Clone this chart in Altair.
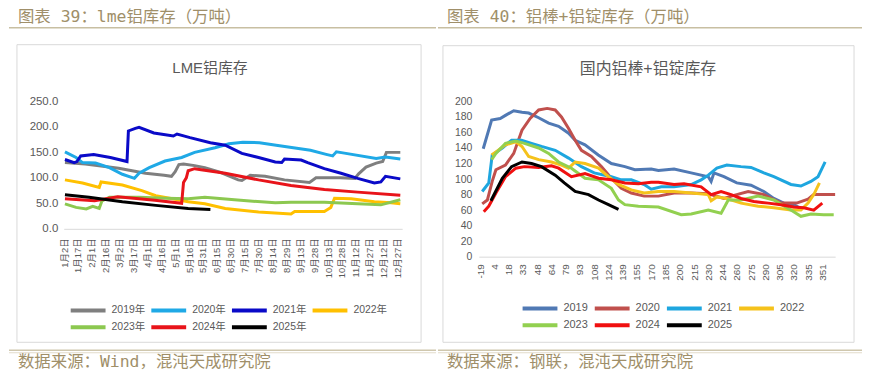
import json
import altair as alt
import pandas as pd

# ---------------- text ----------------
LEFT_HEADER = "图表 39：lme铝库存（万吨）"
RIGHT_HEADER = "图表 40：铝棒+铝锭库存（万吨）"
LEFT_SOURCE = "数据来源：Wind，混沌天成研究院"
RIGHT_SOURCE = "数据来源：钢联，混沌天成研究院"
LEFT_TITLE = "LME铝库存"
RIGHT_TITLE = "国内铝棒+铝锭库存"

# ---------------- axes ----------------
LEFT_TICK_VALUES = [2, 17, 32, 47, 62, 77, 92, 107, 122, 137, 152, 167, 182, 197, 212,
                    227, 242, 257, 272, 287, 302, 317, 332, 347, 362]
LEFT_TICK_LABELS = ["1月2日", "1月17日", "2月1日", "2月16日", "3月2日", "3月17日", "4月1日",
                    "4月16日", "5月1日", "5月16日", "5月31日", "6月15日", "6月30日", "7月15日",
                    "7月30日", "8月14日", "8月29日", "9月13日", "9月28日", "10月13日", "10月28日",
                    "11月12日", "11月27日", "12月12日", "12月27日"]
LEFT_Y_TICKS = [0, 50, 100, 150, 200, 250]

RIGHT_TICK_VALUES = list(range(25))
RIGHT_TICK_LABELS = ["-19", "4", "18", "33", "48", "64", "79", "93", "108", "124", "139", "155",
                     "170", "185", "200", "215", "230", "244", "260", "275", "290", "305", "320",
                     "335", "351"]
RIGHT_Y_TICKS = [0, 20, 40, 60, 80, 100, 120, 140, 160, 180, 200]

LEFT_SERIES = ["2019年", "2020年", "2021年", "2022年", "2023年", "2024年", "2025年"]
LEFT_COLORS = ["#7F7F7F", "#1FA9E6", "#0A0AC8", "#FFC000", "#8CC850", "#E8141A", "#000000"]
RIGHT_SERIES = ["2019", "2020", "2021", "2022", "2023", "2024", "2025"]
RIGHT_COLORS = ["#5079B4", "#C0504D", "#1EA6DF", "#F5C21B", "#92D050", "#F01010", "#000000"]

# ---------------- LME (day of year, 万吨) ----------------
lme_2019_day = [3, 25, 61, 90, 110, 118, 122, 126, 131, 143, 154, 172, 190, 194, 203, 219, 240,
                267, 274, 300, 316, 320, 328, 339, 346, 350, 365]
lme_2019_val = [130, 127, 119, 109, 105, 103, 112, 126, 127, 124, 120, 110, 96, 95, 105, 103, 96,
                91, 100, 100, 99, 108, 121, 129, 132, 150, 150]
lme_2020_day = [3, 15, 22, 36, 51, 65, 78, 83, 94, 111, 129, 143, 165, 180, 195, 213, 231, 268,
                285, 292, 296, 303, 339, 349, 365]
lme_2020_val = [151, 140, 130, 129, 120, 107, 99, 109, 120, 133, 140, 150, 159, 167, 170, 169, 164,
                154, 146, 143, 151, 149, 138, 141, 137]
lme_2021_day = [3, 13, 16, 20, 34, 52, 70, 71.5, 79, 83, 99, 120, 124, 138, 160, 176, 194, 212,
                230, 237, 240, 258, 265, 283, 301, 319, 337, 344, 349, 365]
lme_2021_val = [136, 130, 132, 143, 146, 140, 132, 192, 197, 199, 188, 182, 186, 179, 169, 164,
                148, 140, 131, 130, 137, 135, 130, 118, 109, 99, 90, 92, 103, 98]
lme_2022_day = [3, 22, 40, 42, 65, 86, 101, 119, 136, 154, 176, 212, 247, 251, 283, 290, 294,
                312, 337, 355, 365]
lme_2022_val = [96, 90, 81, 92, 86, 75, 65, 59, 53, 49, 40, 33, 29, 34, 34, 42, 60, 59, 53, 51, 49]
lme_2023_day = [3, 15, 26, 33, 40, 43, 51, 83, 112, 136, 154, 186, 230, 247, 283, 319, 344, 365]
lme_2023_val = [49, 42, 39, 44, 40, 55, 62, 62, 60, 59, 62, 57, 51, 52, 52, 49, 47, 57]
lme_2024_day = [3, 35, 60, 100, 129, 131, 134, 136, 143, 150, 176, 212, 247, 283, 319, 365]
lme_2024_val = [59, 55, 63, 56, 50, 91, 100, 114, 118, 116, 109, 96, 85, 77, 72, 66]
lme_2025_day = [3, 29, 65, 101, 136, 160]
lme_2025_val = [67, 62, 53, 46, 40, 38]

# ---------------- domestic (category position, 万吨) ----------------
dom_2019_pos = [0.21, 0.8, 1.4, 1.77, 2.35, 2.93, 3.4, 4.1, 4.8, 5.5, 6.2, 6.66, 7.35, 8.28, 9.2,
                10.15, 10.85, 12.0, 12.5, 13.6, 14.8, 16.0, 16.2, 16.4, 17.1, 18.0, 19.0, 19.9,
                20.6, 21.3, 22.0, 22.4]
dom_2019_val = [139, 176, 178, 182, 188, 186, 185, 179, 172, 168, 159, 150, 144, 131, 120, 116,
                112, 113, 111, 113, 108, 103, 97, 108, 103, 95, 92, 84, 75, 69, 67, 63]
dom_2020_pos = [0.14, 0.5, 0.84, 1.1, 1.77, 2.35, 2.93, 3.5, 4.1, 4.7, 5.26, 5.7, 6.2, 6.66, 7.1,
                7.8, 8.5, 9.2, 9.9, 10.6, 11.5, 12.5, 13.6, 14.8, 16.0, 17.1, 17.8, 18.8, 19.9,
                21.1, 22.2, 23.0, 23.4, 24.9]
dom_2020_val = [68, 73, 97, 112, 118, 133, 163, 178, 189, 191, 189, 180, 165, 150, 137, 129, 116,
                101, 88, 82, 78, 78, 82, 82, 81, 75, 79, 84, 80, 69, 69, 74, 80, 80]
dom_2021_pos = [0.14, 0.6, 0.84, 1.55, 2.2, 2.9, 3.6, 4.3, 5.26, 6.2, 7.1, 8.0, 9.2, 9.9, 10.6,
                11.5, 12.0, 12.7, 13.6, 14.8, 15.5, 16.0, 16.6, 17.3, 18.3, 19.0, 19.9, 20.6,
                21.8, 22.5, 23.2, 23.7, 24.2]
dom_2021_val = [84, 95, 131, 140, 150, 150, 146, 142, 137, 127, 116, 108, 103, 99, 99, 93, 87, 90,
                90, 93, 99, 105, 114, 118, 116, 115, 108, 103, 93, 91, 97, 103, 122]
dom_2022_pos = [0.8, 1.1, 1.77, 2.5, 2.93, 3.4, 4.1, 5.0, 5.7, 6.2, 6.66, 7.35, 8.3, 9.0, 9.7,
                10.6, 11.5, 12.5, 13.6, 14.8, 16.0, 16.2, 16.6, 17.3, 18.3, 19.5, 20.6, 21.8,
                22.5, 23.0, 23.4, 23.8]
dom_2022_val = [131, 135, 144, 148, 142, 129, 125, 122, 118, 114, 122, 120, 114, 103, 93, 86, 82,
                84, 84, 82, 80, 72, 77, 75, 69, 65, 63, 60, 60, 69, 80, 95]
dom_2023_pos = [0.8, 1.1, 1.77, 2.5, 3.1, 4.1, 4.8, 5.5, 6.4, 7.35, 8.3, 9.2, 9.7, 10.15, 11.1,
                12.5, 14.1, 14.8, 16.0, 16.9, 17.4, 18.3, 19.5, 20.6, 21.8, 22.5, 23.2, 24.1, 24.8]
dom_2023_val = [125, 133, 146, 149, 146, 140, 133, 122, 114, 101, 99, 88, 73, 67, 65, 64, 54, 55,
                60, 56, 73, 73, 78, 73, 60, 52, 55, 54, 54]
dom_2024_pos = [0.25, 0.6, 1.1, 1.77, 2.5, 3.1, 4.1, 5.0, 5.5, 6.4, 7.35, 8.3, 9.2, 10.15, 11.1,
                12.0, 12.5, 13.6, 14.3, 15.5, 16.2, 16.9, 17.6, 18.3, 19.2, 20.2, 21.1, 22.0,
                22.7, 23.4, 24.0]
dom_2024_val = [58, 65, 82, 103, 114, 116, 115, 117, 114, 103, 107, 101, 99, 95, 94, 96, 96, 93,
                94, 90, 80, 84, 80, 75, 71, 69, 67, 64, 63, 60, 69]
dom_2025_pos = [0.75, 1.55, 2.2, 2.93, 3.6, 4.3, 5.26, 5.9, 6.66, 7.6, 8.3, 9.0, 9.7]
dom_2025_val = [72, 101, 116, 122, 120, 116, 105, 95, 84, 80, 73, 67, 61]

# ---------------- build tables ----------------
def long_table(names, xs, vs):
    rows = []
    for name, xx, vv in zip(names, xs, vs):
        for i, (a, b) in enumerate(zip(xx, vv)):
            rows.append({"series": name, "x": a, "v": b, "i": i})
    return pd.DataFrame(rows)


left_df = long_table(
    LEFT_SERIES,
    [lme_2019_day, lme_2020_day, lme_2021_day, lme_2022_day, lme_2023_day, lme_2024_day, lme_2025_day],
    [lme_2019_val, lme_2020_val, lme_2021_val, lme_2022_val, lme_2023_val, lme_2024_val, lme_2025_val],
)
right_df = long_table(
    RIGHT_SERIES,
    [dom_2019_pos, dom_2020_pos, dom_2021_pos, dom_2022_pos, dom_2023_pos, dom_2024_pos, dom_2025_pos],
    [dom_2019_val, dom_2020_val, dom_2021_val, dom_2022_val, dom_2023_val, dom_2024_val, dom_2025_val],
)

FONT = "Liberation Sans, Noto Sans CJK SC"
HFONT = "DejaVu Sans Mono, Noto Sans CJK SC"
TAN = "#A08F69"
GREY = "#595959"
ONE = pd.DataFrame({"k": [0]})


def decorations(bg, box, header, source, title, title_xy, title_size):
    x0, x1, y0, y1 = bg
    bx0, bx1, by0, by1 = box
    layers = [
        alt.Chart(ONE).mark_rect(fill="white", fillOpacity=0).encode(
            x=alt.value(x0), x2=alt.value(x1), y=alt.value(y0), y2=alt.value(y1)),
        alt.Chart(ONE).mark_rect(fill="white", fillOpacity=0, stroke="#D9D9D9", strokeWidth=1).encode(
            x=alt.value(bx0), x2=alt.value(bx1), y=alt.value(by0), y2=alt.value(by1)),
        alt.Chart(ONE).mark_text(text=header, align="left", baseline="alphabetic", font=HFONT,
                                 fontSize=16.5, color=TAN).encode(
            x=alt.value(x0 + 9), y=alt.value(y0 + 12.5)),
        alt.Chart(ONE).mark_rule(color="#C8BFA2", strokeWidth=1.5).encode(
            x=alt.value(x0), x2=alt.value(x1), y=alt.value(y0 + 18)),
        alt.Chart(ONE).mark_rule(color="#CFC7AE", strokeWidth=1.5).encode(
            x=alt.value(x0), x2=alt.value(x1), y=alt.value(250)),
        alt.Chart(ONE).mark_rule(color="#E2DCCB", strokeWidth=1).encode(
            x=alt.value(x0), x2=alt.value(x1), y=alt.value(252.5)),
        alt.Chart(ONE).mark_text(text=source, align="left", baseline="alphabetic", font=HFONT,
                                 fontSize=16.5, color=TAN).encode(
            x=alt.value(x0 + 9), y=alt.value(266.5)),
        alt.Chart(ONE).mark_text(text=title, align="center", baseline="middle", font=FONT,
                                 fontSize=title_size, color=GREY).encode(
            x=alt.value(title_xy[0]), y=alt.value(title_xy[1])),
    ]
    return layers


left_label_expr = json.dumps(LEFT_TICK_LABELS, ensure_ascii=False) + "[round((datum.value - 2) / 15)]"
right_label_expr = json.dumps(RIGHT_TICK_LABELS, ensure_ascii=False) + "[round(datum.value)]"

left_lines = alt.Chart(left_df).mark_line(strokeWidth=3).encode(
    x=alt.X("x:Q", title=None,
            scale=alt.Scale(domain=[1.7, 367], nice=False, zero=False),
            axis=alt.Axis(values=LEFT_TICK_VALUES, labelExpr=left_label_expr, labelAngle=270,
                          labelFont=FONT, labelFontSize=9.5, labelColor=GREY, labelPadding=9,
                          ticks=False, tickSize=0, grid=False, domainColor="#D9D9D9",
                          labelOverlap=False, labelFlush=False, zindex=1)),
    y=alt.Y("v:Q", title=None,
            scale=alt.Scale(domain=[0, 250], nice=False),
            axis=alt.Axis(values=LEFT_Y_TICKS, format=".1f", labelFont=FONT, labelFontSize=11.5,
                          labelColor=GREY, labelPadding=6, ticks=False, tickSize=0, grid=False,
                          domain=False, labelFlush=False, zindex=1)),
    color=alt.Color("series:N",
                    scale=alt.Scale(domain=LEFT_SERIES, range=LEFT_COLORS),
                    legend=alt.Legend(title=None, orient="none", legendX=5, legendY=203,
                                      direction="horizontal", columns=4, symbolType="stroke",
                                      symbolSize=1225, symbolStrokeWidth=4, labelFont=FONT,
                                      labelFontSize=10.5, labelColor=GREY, labelOffset=4,
                                      columnPadding=4, rowPadding=3, clipHeight=14)),
    order="i:Q",
)

right_lines = alt.Chart(right_df).mark_line(strokeWidth=3).encode(
    x=alt.X("x:Q", title=None,
            scale=alt.Scale(domain=[-0.1, 24.9], nice=False, zero=False),
            axis=alt.Axis(values=RIGHT_TICK_VALUES, labelExpr=right_label_expr, labelAngle=270,
                          labelFont=FONT, labelFontSize=10, labelColor=GREY, labelPadding=7,
                          ticks=False, tickSize=0, grid=False, domainColor="#D9D9D9",
                          labelOverlap=False, labelFlush=False, zindex=1)),
    y=alt.Y("v:Q", title=None,
            scale=alt.Scale(domain=[0, 200], nice=False),
            axis=alt.Axis(values=RIGHT_Y_TICKS, format="d", labelFont=FONT, labelFontSize=10.5,
                          labelColor=GREY, labelPadding=7, ticks=False, tickSize=0, grid=False,
                          domain=False, labelFlush=False, zindex=1)),
    color=alt.Color("series:N",
                    scale=alt.Scale(domain=RIGHT_SERIES, range=RIGHT_COLORS),
                    legend=alt.Legend(title=None, orient="none", legendX=42, legendY=201,
                                      direction="horizontal", columns=4, symbolType="stroke",
                                      symbolSize=1225, symbolStrokeWidth=4, labelFont=FONT,
                                      labelFontSize=11, labelColor=GREY, labelOffset=4,
                                      columnPadding=4.5, rowPadding=3, clipHeight=14)),
    order="i:Q",
)

left = alt.layer(
    *decorations((-55, 374, -92, 269), (-47, 359, -57, 242), LEFT_HEADER, LEFT_SOURCE,
                 LEFT_TITLE, (147, -34), 15),
    left_lines,
).properties(width=340, height=128)

right = alt.layer(
    *decorations((-41, 385, -92, 269), (-36, 377, -56, 242), RIGHT_HEADER, RIGHT_SOURCE,
                 RIGHT_TITLE, (170, -33), 16),
    right_lines,
).properties(width=358, height=156)

chart = alt.hconcat(left, right, spacing=0).resolve_scale(
    color="independent", x="independent", y="independent"
).resolve_legend(color="independent").properties(padding=0, background="white").configure_view(stroke=None)

chart.save("out.html", embed_options={"renderer": "svg", "actions": False})
